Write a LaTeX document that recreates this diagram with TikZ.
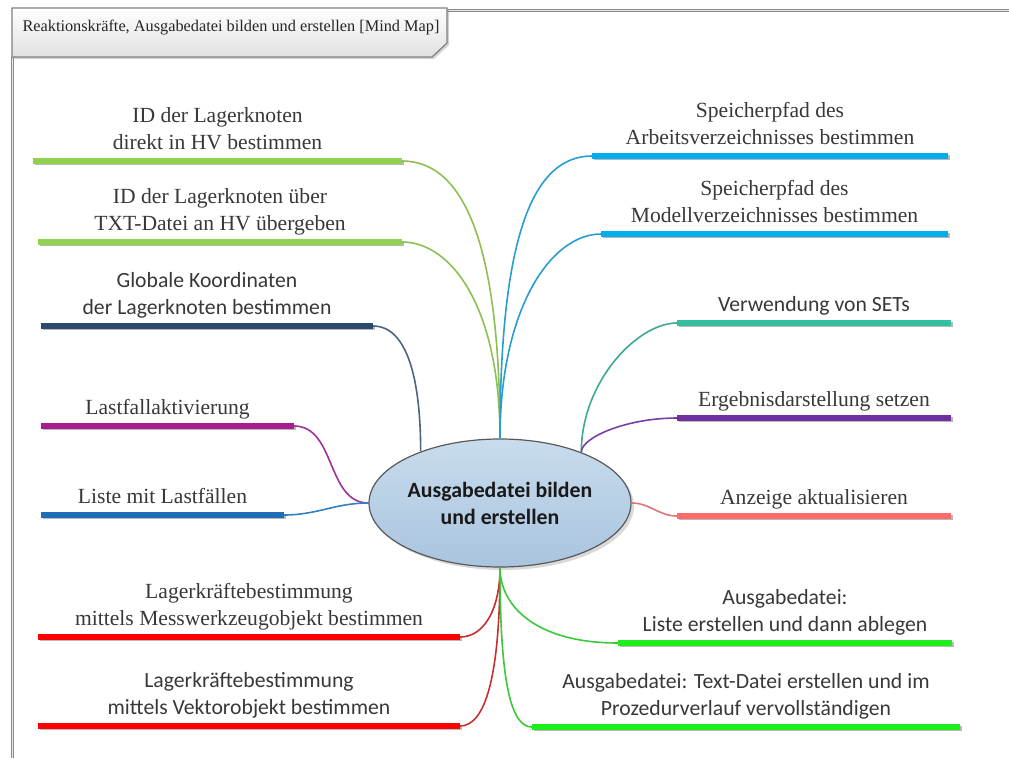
\documentclass[tikz,border=0pt]{standalone}
\usepackage{fontspec}
\setmainfont{Liberation Serif}
\newfontfamily\calibfont{Carlito}
\usepackage{xcolor}
\usetikzlibrary{shapes.geometric, shadows, positioning, calc}

\definecolor{txtgray}{HTML}{383838}
\definecolor{coretop}{HTML}{C8DCED}
\definecolor{corebot}{HTML}{A9C4DE}
\definecolor{lgreenbar}{HTML}{92D050}
\definecolor{lgreenlink}{HTML}{8CBF54}
\definecolor{navybar}{HTML}{2B4A6E}
\definecolor{navylink}{HTML}{4A6580}
\definecolor{magbar}{HTML}{A81C8E}
\definecolor{maglink}{HTML}{A0309A}
\definecolor{bluebar}{HTML}{1F6DB6}
\definecolor{bluelink}{HTML}{3380C0}
\definecolor{redbar}{HTML}{FF0000}
\definecolor{redlink}{HTML}{C83030}
\definecolor{cyanbar}{HTML}{00AEEF}
\definecolor{cyanlink}{HTML}{2A9DD0}
\definecolor{tealbar}{HTML}{33BFA0}
\definecolor{teallink}{HTML}{3AAA90}
\definecolor{purpbar}{HTML}{7030A0}
\definecolor{purplink}{HTML}{7A3FA5}
\definecolor{salmbar}{HTML}{FF6B6B}
\definecolor{salmlink}{HTML}{E07575}
\definecolor{bgreenbar}{HTML}{1EEE1E}
\definecolor{bgreenlink}{HTML}{3CC83C}

\begin{document}
\begin{tikzpicture}[
    x=1pt, y=-1pt,
    bar/.style={line width=5.5pt, draw=#1, preaction={draw=black!28, line width=5.5pt, transform canvas={shift={(1.6pt,-1.6pt)}}}},
    link/.style={line width=1.6pt, draw=#1},
    rmlbl/.style={above, align=center, inner sep=3pt, text depth=6pt, text=txtgray, font=\fontsize{21.6}{26.5}\selectfont},
    sflbl/.style={rmlbl, font=\calibfont\fontsize{21.7}{26.5}\selectfont},
    frame/.style={draw=black!45, line width=1pt, double=black!10, double distance=1pt},
    tabshape/.style={draw=black!50, line width=1.2pt, top color=white, bottom color=black!12, drop shadow={shadow xshift=2pt, shadow yshift=-2pt, opacity=0.35}},
    core/.style={ellipse, draw=black!65, line width=1.2pt, top color=coretop, bottom color=corebot, minimum width=262pt, minimum height=128pt, inner sep=0pt, align=center, drop shadow={shadow xshift=3pt, shadow yshift=-3pt, opacity=0.3}, text=black!90, font=\calibfont\bfseries\fontsize{21.8}{27}\selectfont}
]
    \useasboundingbox (0,0) rectangle (1009,758);

    % frame and title tab
    \draw[frame] (447,10) -- (1009,10);
    \draw[frame] (12,57) -- (12,758);
    \draw[tabshape] (12,8) -- (447,8) -- (447,43) -- (432,57) -- (12,57) -- cycle;
    \node[anchor=base west, text=black!85, font=\fontsize{16.3}{19}\selectfont] (title) at (19,31) {Reaktionskräfte, Ausgabedatei bilden und erstellen [Mind Map]};

    \node[core] (core) at (500,503) {Ausgabedatei bilden\\und erstellen};

    % left branches
    \coordinate (lagerHVA) at (33,161);   \coordinate (lagerHVB) at (402,161);
    \coordinate (lagerTXTA) at (38,242);  \coordinate (lagerTXTB) at (402,242);
    \coordinate (globKoA) at (41,326);    \coordinate (globKoB) at (373,326);
    \coordinate (lastAktA) at (41,426);   \coordinate (lastAktB) at (294,426);
    \coordinate (lastLstA) at (41,515);   \coordinate (lastLstB) at (284,515);
    \coordinate (messWZA) at (38,637);    \coordinate (messWZB) at (460,637);
    \coordinate (vektorA) at (38,726);    \coordinate (vektorB) at (460,726);

    \draw[bar=lgreenbar] (lagerHVA) -- node[rmlbl] (lagerHV) {ID der Lagerknoten\\direkt in HV bestimmen} (lagerHVB);
    \draw[bar=lgreenbar] (lagerTXTA) -- node[rmlbl] (lagerTXT) {ID der Lagerknoten über\\TXT-Datei an HV übergeben} (lagerTXTB);
    \draw[bar=navybar] (globKoA) -- node[sflbl] (globKo) {Globale Koordinaten\\der Lagerknoten bestimmen} (globKoB);
    \draw[bar=magbar] (lastAktA) -- node[rmlbl] (lastAkt) {Lastfallaktivierung} (lastAktB);
    \draw[bar=bluebar] (lastLstA) -- node[rmlbl] (lastLst) {Liste mit Lastfällen} (lastLstB);
    \draw[bar=redbar] (messWZA) -- node[rmlbl] (messWZ) {Lagerkräftebestimmung\\mittels Messwerkzeugobjekt bestimmen} (messWZB);
    \draw[bar=redbar] (vektorA) -- node[sflbl] (vektor) {Lagerkräftebestimmung\\mittels Vektorobjekt bestimmen} (vektorB);

    \draw[link=lgreenlink] (core.north) to[out=90, in=0, out distance=200pt, in distance=60pt] (lagerHVB);
    \draw[link=lgreenlink] (core.north) to[out=90, in=0, out distance=130pt, in distance=50pt] (lagerTXTB);
    \draw[link=navylink] (core.147) to[out=90, in=0, out distance=70pt, in distance=35pt] (globKoB);
    \draw[link=maglink] (core.west) to[out=180, in=0] (lastAktB);
    \draw[link=bluelink] (core.west) to[out=180, in=0] (lastLstB);
    \draw[link=redlink] (core.south) to[out=-90, in=0, out distance=40pt, in distance=25pt] (messWZB);
    \draw[link=redlink] (core.south) to[out=-90, in=0, out distance=110pt, in distance=25pt] (vektorB);

    % right branches
    \coordinate (arbVerzA) at (948,156);  \coordinate (arbVerzB) at (592,156);
    \coordinate (modVerzA) at (948,234);  \coordinate (modVerzB) at (601,234);
    \coordinate (setsA) at (951,323);     \coordinate (setsB) at (677,323);
    \coordinate (ergDarA) at (951,418);   \coordinate (ergDarB) at (677,418);
    \coordinate (anzeigeA) at (951,516);  \coordinate (anzeigeB) at (677,516);
    \coordinate (listeAblA) at (952,643); \coordinate (listeAblB) at (618,643);
    \coordinate (textDatA) at (960,727);  \coordinate (textDatB) at (532,727);

    \draw[bar=cyanbar] (arbVerzA) -- node[rmlbl] (arbVerz) {Speicherpfad des\\Arbeitsverzeichnisses bestimmen} (arbVerzB);
    \draw[bar=cyanbar] (modVerzA) -- node[rmlbl] (modVerz) {Speicherpfad des\\Modellverzeichnisses bestimmen} (modVerzB);
    \draw[bar=tealbar] (setsA) -- node[sflbl] (sets) {Verwendung von SETs} (setsB);
    \draw[bar=purpbar] (ergDarA) -- node[rmlbl] (ergDar) {Ergebnisdarstellung setzen} (ergDarB);
    \draw[bar=salmbar] (anzeigeA) -- node[rmlbl] (anzeige) {Anzeige aktualisieren} (anzeigeB);
    \draw[bar=bgreenbar] (listeAblA) -- node[sflbl] (listeAbl) {Ausgabedatei:\\Liste erstellen und dann ablegen} (listeAblB);
    \draw[bar=bgreenbar] (textDatA) -- node[sflbl] (textDat) {Ausgabedatei: Text-Datei erstellen und im\\Prozedurverlauf vervollständigen} (textDatB);

    \draw[link=cyanlink] (core.north) to[out=90, in=180, out distance=200pt, in distance=60pt] (arbVerzB);
    \draw[link=cyanlink] (core.north) to[out=90, in=180, out distance=130pt, in distance=50pt] (modVerzB);
    \draw[link=teallink] (core.32) to[out=90, in=180, out distance=70pt, in distance=40pt] (setsB);
    \draw[link=purplink] (core.32) to[out=90, in=180, out distance=15pt, in distance=50pt] (ergDarB);
    \draw[link=salmlink] (core.east) to[out=0, in=180] (anzeigeB);
    \draw[link=bgreenlink] (core.south) to[out=-90, in=180, out distance=40pt, in distance=80pt] (listeAblB);
    \draw[link=bgreenlink] (core.south) to[out=-90, in=180, out distance=120pt, in distance=20pt] (textDatB);
\end{tikzpicture}
\end{document}
